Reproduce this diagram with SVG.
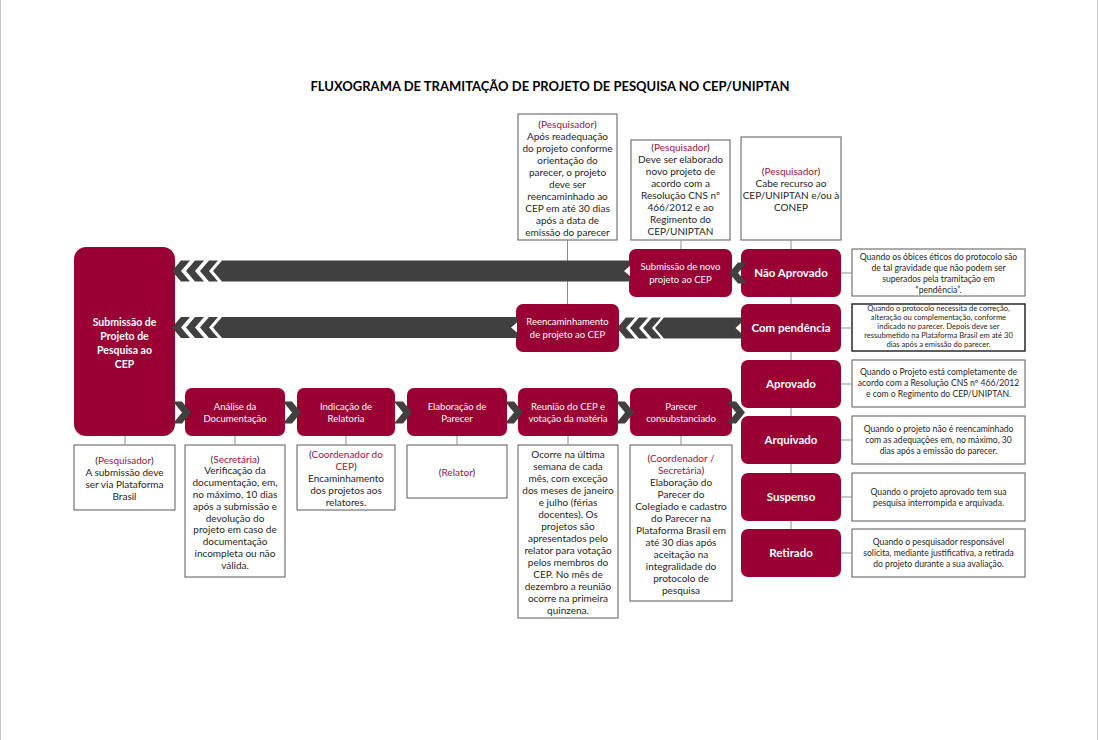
<svg xmlns="http://www.w3.org/2000/svg" width="1099" height="740" viewBox="0 0 1099 740">
<style>
.n{fill:#990033}
.bx{fill:#fff;stroke:#595959;stroke-width:1}
.bk{fill:#fff;stroke:#1a1a1a;stroke-width:1.4}
.ln{stroke:#8c8c8c;stroke-width:1;fill:none}
.ar{fill:#404040}
.nt{fill:#fff}
text{font-family:Lato,"Liberation Sans",sans-serif;text-anchor:middle;fill:#262626}
.w{fill:#fff}
.b{font-weight:bold}
.r{fill:#a0104a}
.s10{font-size:10px}
.s95{font-size:9.5px}
.s86{font-size:8.6px}
.s76{font-size:7.6px}
.sn{font-size:11.5px;font-weight:bold}
</style>
<rect width="1099" height="740" fill="#fff"/>
<line x1="0.5" y1="0" x2="0.5" y2="740" stroke="#c8c8c8"/>
<line x1="1097.5" y1="0" x2="1097.5" y2="740" stroke="#c8c8c8"/>
<text x="550" y="90.5" class="b" style="font-size:13px;fill:#000">FLUXOGRAMA DE TRAMITAÇÃO DE PROJETO DE PESQUISA NO CEP/UNIPTAN</text>

<g id="node-submissao">
<rect class="n" x="74" y="247" width="101" height="189" rx="12"/>
<text class="w b" style="font-size:10.5px" x="124.5" y="326"><tspan>Submissão de</tspan><tspan x="124.5" dy="14">Projeto de</tspan><tspan x="124.5" dy="14">Pesquisa ao</tspan><tspan x="124.5" dy="14">CEP</tspan></text>
</g>
<g id="note-submissao">
<rect class="bx" x="74" y="445" width="101" height="65"/>
<text class="s10" x="124.5" y="463.5"><tspan>(<tspan class="r">Pesquisador</tspan>)</tspan><tspan x="124.5" dy="12">A submissão deve</tspan><tspan x="124.5" dy="12">ser via Plataforma</tspan><tspan x="124.5" dy="12">Brasil</tspan></text>
</g>

<g id="node-analise">
<rect class="n" x="185" y="388" width="100" height="48" rx="7"/>
<text class="w s95" x="235" y="409.5"><tspan>Análise da</tspan><tspan x="235" dy="12.3">Documentação</tspan></text>
</g>
<g id="note-analise">
<rect class="bx" x="185" y="445" width="100" height="132"/>
<text class="s10" x="235" y="462.5"><tspan>(<tspan class="r">Secretária</tspan>)</tspan><tspan x="235" dy="11.8">Verificação da</tspan><tspan x="235" dy="11.8">documentação, em,</tspan><tspan x="235" dy="11.8">no máximo, 10 dias</tspan><tspan x="235" dy="11.8">após a submissão e</tspan><tspan x="235" dy="11.8">devolução do</tspan><tspan x="235" dy="11.8">projeto em caso de</tspan><tspan x="235" dy="11.8">documentação</tspan><tspan x="235" dy="11.8">incompleta ou não</tspan><tspan x="235" dy="11.8">válida.</tspan></text>
</g>

<g id="node-indicacao">
<rect class="n" x="297" y="388" width="98" height="48" rx="7"/>
<text class="w s95" x="346" y="409.5"><tspan>Indicação de</tspan><tspan x="346" dy="12.3">Relatoria</tspan></text>
</g>
<g id="note-indicacao">
<rect class="bx" x="297" y="445" width="98" height="65"/>
<text class="s10" x="346" y="457.5"><tspan>(<tspan class="r">Coordenador do</tspan></tspan><tspan x="346" dy="12.2"><tspan class="r">CEP</tspan>)</tspan><tspan x="346" dy="12.2">Encaminhamento</tspan><tspan x="346" dy="12.2">dos projetos aos</tspan><tspan x="346" dy="12.2">relatores.</tspan></text>
</g>

<g id="node-elaboracao">
<rect class="n" x="407" y="388" width="100" height="48" rx="7"/>
<text class="w s95" x="457" y="409.5"><tspan>Elaboração de</tspan><tspan x="457" dy="12.3">Parecer</tspan></text>
</g>
<g id="note-elaboracao">
<rect class="bx" x="407" y="445" width="100" height="53"/>
<text class="s10" x="457" y="475.5">(<tspan class="r">Relator</tspan>)</text>
</g>

<g id="node-reuniao">
<rect class="n" x="518" y="388" width="100" height="48" rx="7"/>
<text class="w s95" x="568" y="409.5"><tspan>Reunião do CEP e</tspan><tspan x="568" dy="12.3">votação da matéria</tspan></text>
</g>
<g id="note-reuniao">
<rect class="bx" x="518" y="445" width="100" height="173"/>
<text class="s10" x="568" y="457.5"><tspan>Ocorre na última</tspan><tspan x="568" dy="12">semana de cada</tspan><tspan x="568" dy="12">mês, com exceção</tspan><tspan x="568" dy="12">dos meses de janeiro</tspan><tspan x="568" dy="12">e julho (férias</tspan><tspan x="568" dy="12">docentes). Os</tspan><tspan x="568" dy="12">projetos são</tspan><tspan x="568" dy="12">apresentados pelo</tspan><tspan x="568" dy="12">relator para votação</tspan><tspan x="568" dy="12">pelos membros do</tspan><tspan x="568" dy="12">CEP. No mês de</tspan><tspan x="568" dy="12">dezembro a reunião</tspan><tspan x="568" dy="12">ocorre na primeira</tspan><tspan x="568" dy="12">quinzena.</tspan></text>
</g>

<g id="node-parecer">
<rect class="n" x="630" y="388" width="102" height="48" rx="7"/>
<text class="w s95" x="681" y="409.5"><tspan>Parecer</tspan><tspan x="681" dy="12.3">consubstanciado</tspan></text>
</g>
<g id="note-parecer">
<rect class="bx" x="630" y="445" width="102" height="156"/>
<text class="s10" x="681" y="461.5"><tspan>(<tspan class="r">Coordenador /</tspan></tspan><tspan x="681" dy="12"><tspan class="r">Secretária</tspan>)</tspan><tspan x="681" dy="12">Elaboração do</tspan><tspan x="681" dy="12">Parecer do</tspan><tspan x="681" dy="12">Colegiado e cadastro</tspan><tspan x="681" dy="12">do Parecer na</tspan><tspan x="681" dy="12">Plataforma Brasil em</tspan><tspan x="681" dy="12">até 30 dias após</tspan><tspan x="681" dy="12">aceitação na</tspan><tspan x="681" dy="12">integralidade do</tspan><tspan x="681" dy="12">protocolo de</tspan><tspan x="681" dy="12">pesquisa</tspan></text>
</g>

<g id="node-reencaminhamento">
<rect class="n" x="516" y="304" width="103" height="48" rx="7"/>
<text class="w s95" x="567.5" y="325"><tspan>Reencaminhamento</tspan><tspan x="567.5" dy="12.6">de projeto ao CEP</tspan></text>
</g>
<g id="note-reencaminhamento">
<rect class="bx" x="518" y="114" width="99" height="126"/>
<text class="s10" x="567.5" y="127.5"><tspan>(<tspan class="r">Pesquisador</tspan>)</tspan><tspan x="567.5" dy="12.1">Após readequação</tspan><tspan x="567.5" dy="12.1">do projeto conforme</tspan><tspan x="567.5" dy="12.1">orientação do</tspan><tspan x="567.5" dy="12.1">parecer, o projeto</tspan><tspan x="567.5" dy="12.1">deve ser</tspan><tspan x="567.5" dy="12.1">reencaminhado ao</tspan><tspan x="567.5" dy="12.1">CEP em até 30 dias</tspan><tspan x="567.5" dy="12.1">após a data de</tspan><tspan x="567.5" dy="12.1">emissão do parecer</tspan></text>
</g>

<g id="node-novo">
<rect class="n" x="629" y="249" width="103" height="48" rx="7"/>
<text class="w s95" x="680.5" y="270.3"><tspan>Submissão de novo</tspan><tspan x="680.5" dy="13">projeto ao CEP</tspan></text>
</g>
<g id="note-novo">
<rect class="bx" x="631" y="140" width="99" height="100"/>
<text class="s10" x="680.5" y="150.5"><tspan>(<tspan class="r">Pesquisador</tspan>)</tspan><tspan x="680.5" dy="12.1">Deve ser elaborado</tspan><tspan x="680.5" dy="12.1">novo projeto de</tspan><tspan x="680.5" dy="12.1">acordo com a</tspan><tspan x="680.5" dy="12.1">Resolução CNS nº</tspan><tspan x="680.5" dy="12.1">466/2012 e ao</tspan><tspan x="680.5" dy="12.1">Regimento do</tspan><tspan x="680.5" dy="12.1">CEP/UNIPTAN</tspan></text>
</g>

<g id="node-nao-aprovado">
<rect class="n" x="741" y="249" width="100" height="48" rx="7"/>
<text class="w sn" x="791" y="277.2">Não Aprovado</text>
</g>
<g id="note-recurso">
<rect class="bx" x="741" y="137" width="100" height="103"/>
<text class="s10" x="791" y="174.5"><tspan>(<tspan class="r">Pesquisador</tspan>)</tspan><tspan x="791" dy="12.2">Cabe recurso ao</tspan><tspan x="791" dy="12.2">CEP/UNIPTAN e/ou à</tspan><tspan x="791" dy="12.2">CONEP</tspan></text>
</g>
<g id="note-nao-aprovado">
<rect class="bx" x="852" y="249" width="173" height="47"/>
<text class="s86" x="938.5" y="260"><tspan>Quando os óbices éticos do protocolo são</tspan><tspan x="938.5" dy="11">de tal gravidade que não podem ser</tspan><tspan x="938.5" dy="11">superados pela tramitação em</tspan><tspan x="938.5" dy="11">“pendência”.</tspan></text>
</g>

<g id="node-com-pendencia">
<rect class="n" x="741" y="304" width="100" height="48" rx="7"/>
<text class="w sn" x="791" y="332.2">Com pendência</text>
</g>
<g id="note-com-pendencia">
<rect class="bk" x="852" y="304" width="173" height="47"/>
<text class="s76" x="938.5" y="311.2"><tspan>Quando o protocolo necessita de correção,</tspan><tspan x="938.5" dy="9">alteração ou complementação, conforme</tspan><tspan x="938.5" dy="9">indicado no parecer. Depois deve ser</tspan><tspan x="938.5" dy="9">ressubmetido na Plataforma Brasil em até 30</tspan><tspan x="938.5" dy="9">dias após a emissão do parecer.</tspan></text>
</g>

<g id="node-aprovado">
<rect class="n" x="741" y="360" width="100" height="48" rx="7"/>
<text class="w sn" x="791" y="388.2">Aprovado</text>
</g>
<g id="note-aprovado">
<rect class="bx" x="852" y="360" width="173" height="47"/>
<text class="s86" x="938.5" y="375"><tspan>Quando o Projeto está completamente de</tspan><tspan x="938.5" dy="11">acordo com a Resolução CNS nº 466/2012</tspan><tspan x="938.5" dy="11">e com o Regimento do CEP/UNIPTAN.</tspan></text>
</g>

<g id="node-arquivado">
<rect class="n" x="741" y="416" width="100" height="48" rx="7"/>
<text class="w sn" x="791" y="444.2">Arquivado</text>
</g>
<g id="note-arquivado">
<rect class="bx" x="852" y="416" width="173" height="48"/>
<text class="s86" x="938.5" y="431.5"><tspan>Quando o projeto não é reencaminhado</tspan><tspan x="938.5" dy="11">com as adequações em, no máximo, 30</tspan><tspan x="938.5" dy="11">dias após a emissão do parecer.</tspan></text>
</g>

<g id="node-suspenso">
<rect class="n" x="741" y="473" width="100" height="48" rx="7"/>
<text class="w sn" x="791" y="501.2">Suspenso</text>
</g>
<g id="note-suspenso">
<rect class="bx" x="852" y="473" width="173" height="48"/>
<text class="s86" x="938.5" y="494.5"><tspan>Quando o projeto aprovado tem sua</tspan><tspan x="938.5" dy="11.3">pesquisa interrompida e arquivada.</tspan></text>
</g>

<g id="node-retirado">
<rect class="n" x="741" y="529" width="100" height="48" rx="7"/>
<text class="w sn" x="791" y="557.2">Retirado</text>
</g>
<g id="note-retirado">
<rect class="bx" x="852" y="529" width="173" height="48"/>
<text class="s86" x="938.5" y="545"><tspan>Quando o pesquisador responsável</tspan><tspan x="938.5" dy="11">solicita, mediante justificativa, a retirada</tspan><tspan x="938.5" dy="11">do projeto durante a sua avaliação.</tspan></text>
</g>

<g id="connectors">
<g class="ln">
<line x1="125" y1="436" x2="125" y2="445"/>
<line x1="235" y1="436" x2="235" y2="445"/>
<line x1="346" y1="436" x2="346" y2="445"/>
<line x1="457" y1="436" x2="457" y2="445"/>
<line x1="568" y1="436" x2="568" y2="445"/>
<line x1="681" y1="436" x2="681" y2="445"/>
<line x1="567.5" y1="240" x2="567.5" y2="304"/>
<line x1="681" y1="240" x2="681" y2="249"/>
<line x1="791" y1="240" x2="791" y2="249"/>
<line x1="791" y1="297" x2="791" y2="304"/>
<line x1="791" y1="352" x2="791" y2="360"/>
<line x1="791" y1="408" x2="791" y2="416"/>
<line x1="791" y1="464" x2="791" y2="473"/>
<line x1="791" y1="521" x2="791" y2="529"/>
<line x1="841" y1="273" x2="852" y2="273"/>
<line x1="841" y1="328" x2="852" y2="328"/>
<line x1="841" y1="384" x2="852" y2="384"/>
<line x1="841" y1="440" x2="852" y2="440"/>
<line x1="841" y1="497" x2="852" y2="497"/>
<line x1="841" y1="553" x2="852" y2="553"/>
</g>
<g class="ar">
<polygon points="172,271 181,260.5 190,260.5 181,271 190,281.5 181,281.5"/>
<polygon points="186,271 195,260.5 204,260.5 195,271 204,281.5 195,281.5"/>
<polygon points="200,271 209,260.5 218,260.5 209,271 218,281.5 209,281.5"/>
<polygon points="213,271 222,260.5 630,260.5 630,281.5 222,281.5"/>
<polygon points="729,273 738,262.5 747,262.5 738,273 747,283.5 738,283.5"/>
<polygon points="172,327.5 181,317 190,317 181,327.5 190,338 181,338"/>
<polygon points="186,327.5 195,317 204,317 195,327.5 204,338 195,338"/>
<polygon points="200,327.5 209,317 218,317 209,327.5 218,338 209,338"/>
<polygon points="213,327.5 222,317 517,317 517,338 222,338"/>
<polygon points="617,328 626,317.5 635,317.5 626,328 635,338.5 626,338.5"/>
<polygon points="630,328 639,317.5 648,317.5 639,328 648,338.5 639,338.5"/>
<polygon points="643,328 652,317.5 661,317.5 652,328 661,338.5 652,338.5"/>
<polygon points="655,328 664,317.5 741,317.5 741,338.5 664,338.5"/>
<polygon points="173,401.5 182,401.5 191,412.5 182,423.5 173,423.5 182,412.5"/>
<polygon points="283,401.5 292,401.5 301,412.5 292,423.5 283,423.5 292,412.5"/>
<polygon points="394,401.5 403,401.5 412,412.5 403,423.5 394,423.5 403,412.5"/>
<polygon points="505,401.5 514,401.5 523,412.5 514,423.5 505,423.5 514,412.5"/>
<polygon points="616,401.5 625,401.5 634,412.5 625,423.5 616,423.5 625,412.5"/>
<polygon points="727,401.5 736,401.5 745,412.5 736,423.5 727,423.5 736,412.5"/>
</g>
<g class="nt">
<polygon points="624,271 630,266 630,276"/>
<polygon points="511,327.5 517,322.5 517,332.5"/>
<polygon points="735.5,328 741,323 741,333"/>
</g>
</g>
</svg>
